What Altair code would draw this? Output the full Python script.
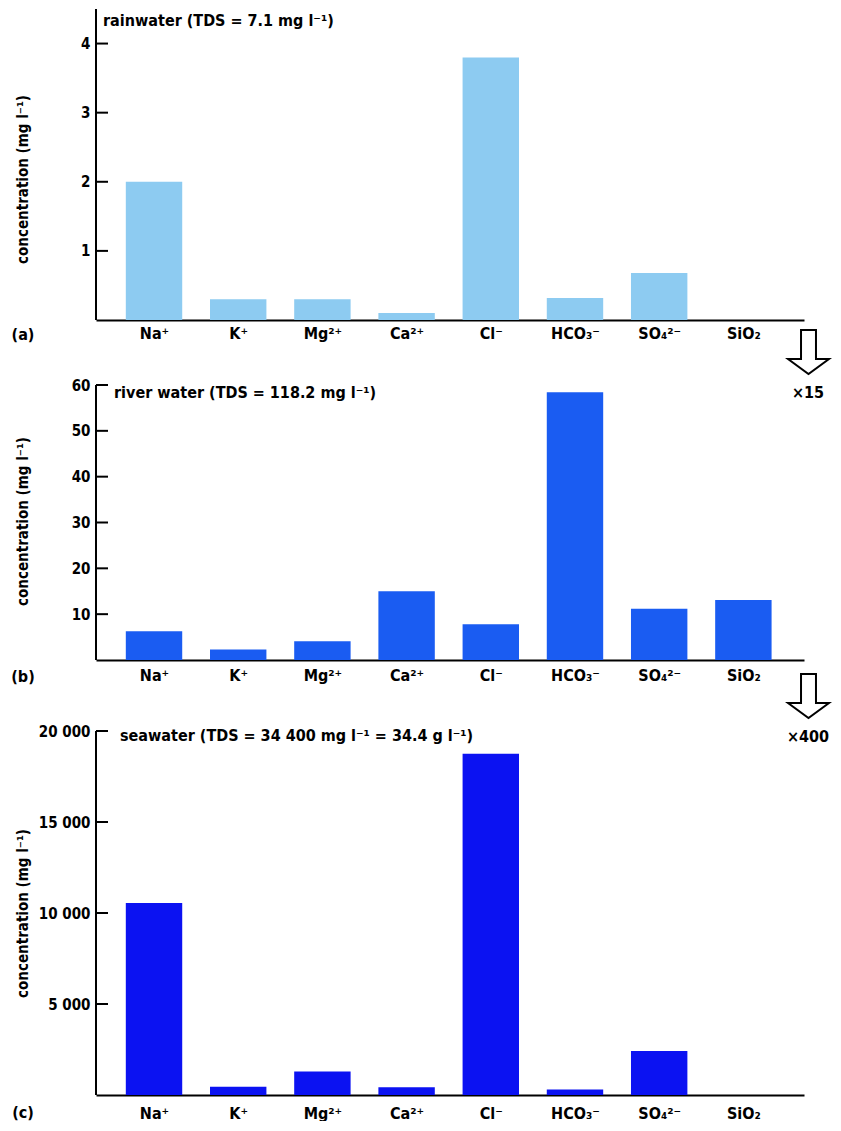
import json
import altair as alt
import pandas as pd

# ---------------- data ----------------
ions = ["Na⁺", "K⁺", "Mg²⁺", "Ca²⁺", "Cl⁻", "HCO₃⁻", "SO₄²⁻", "SiO₂"]
rain = [2.0, 0.3, 0.3, 0.1, 3.8, 0.32, 0.68, 0.0]
river = [6.3, 2.3, 4.1, 15.0, 7.8, 58.4, 11.2, 13.1]
sea = [10550, 450, 1290, 420, 18750, 300, 2420, 0]

rain_ticks = [1, 2, 3, 4]
river_ticks = [10, 20, 30, 40, 50, 60]
sea_ticks = [5000, 10000, 15000, 20000]

titles = [
    "rainwater (TDS = 7.1 mg l⁻¹)",
    "river water (TDS = 118.2 mg l⁻¹)",
    "seawater (TDS = 34 400 mg l⁻¹ = 34.4 g l⁻¹)",
]
tags = ["(a)", "(b)", "(c)"]
factors = ["×15", "×400"]
ytitle = "concentration (mg l⁻¹)"

# ---------------- style ----------------
FONT = "Liberation Sans Narrow, DejaVu Sans Condensed, sans-serif"
W = 708
XMIN, XMAX = -0.689, 7.72
HALF = 0.335
ARROW = "M -0.34 -1 L 0.34 -1 L 0.34 0.32 L 0.93 0.32 L 0 1 L -0.93 0.32 L -0.34 0.32 Z"

label_expr = json.dumps(ions) + "[datum.value]"


def panel(values, color, ymax, axis_top, ticks, height, title, title_pos, tag, title_y,
          xpad, tag_off, ylabel_expr=None, factor=None, arrow_y=None, factor_y=None):
    df = pd.DataFrame({"idx": list(range(len(ions))), "ion": ions, "conc": values})
    xscale = alt.Scale(domain=[XMIN, XMAX], nice=False, zero=False)
    yscale = alt.Scale(domain=[0, ymax], nice=False, zero=True)
    xaxis = alt.Axis(values=list(range(len(ions))), labelExpr=label_expr, ticks=False,
                     tickSize=0, grid=False, domainColor="black", domainWidth=2,
                     labelFontSize=16, labelPadding=xpad, labelFont=FONT, labelColor="black",
                     labelFontWeight="bold",
                     labelFlush=False, labelOverlap=False, title=None)
    yaxis_kw = dict(values=ticks, ticks=False, tickSize=0, grid=False, domain=False,
                    labelFontSize=15, labelPadding=6, labelFont=FONT,
                    labelColor="black", labelOverlap=False, labelFlush=False,
                    labelFontWeight="bold",
                    title=ytitle, titleX=-73.5, titleY=title_y, titleAngle=270,
                    titleBaseline="middle", titleFont=FONT, titleFontSize=15,
                    titleFontWeight="bold", titleColor="black")
    if ylabel_expr:
        yaxis_kw["labelExpr"] = ylabel_expr
    yaxis = alt.Axis(**yaxis_kw)

    bars = alt.Chart(df).transform_calculate(
        x0=f"datum.idx - {HALF}", x1=f"datum.idx + {HALF}", base="0"
    ).mark_bar(color=color).encode(
        x=alt.X("x0:Q", scale=xscale, axis=xaxis),
        x2="x1:Q",
        y=alt.Y("conc:Q", scale=yscale, axis=yaxis),
        y2="base:Q",
    )

    # vertical axis line, from 0 up to the top of the axis
    axis_line = alt.Chart(pd.DataFrame({"conc": [0], "top": [axis_top]})).mark_rule(
        color="black", strokeWidth=2
    ).encode(x=alt.value(0), y=alt.Y("conc:Q", scale=yscale, axis=yaxis), y2="top:Q")

    tick_rules = alt.Chart(pd.DataFrame({"conc": ticks})).mark_rule(
        color="black", strokeWidth=2
    ).encode(x=alt.value(0), x2=alt.value(12),
             y=alt.Y("conc:Q", scale=yscale, axis=yaxis))

    ttl = alt.Chart(pd.DataFrame({"t": [title]})).mark_text(
        align="left", baseline="middle", font=FONT, fontSize=16, fontWeight="bold",
        color="black"
    ).encode(x=alt.value(title_pos[0]), y=alt.value(title_pos[1]), text="t:N")

    tg = alt.Chart(pd.DataFrame({"t": [tag]})).mark_text(
        align="center", baseline="middle", font=FONT, fontSize=16, fontWeight="bold",
        color="black"
    ).encode(x=alt.value(-73), y=alt.value(height + tag_off), text="t:N")

    layers = [bars, axis_line, tick_rules, ttl, tg]
    if factor is not None:
        arr = alt.Chart(pd.DataFrame({"a": [1]})).mark_point(
            shape=ARROW, size=1936, filled=True, fill="white", stroke="black",
            strokeWidth=2, opacity=1
        ).encode(x=alt.value(712.5), y=alt.value(arrow_y))
        ft = alt.Chart(pd.DataFrame({"t": [factor]})).mark_text(
            align="center", baseline="middle", font=FONT, fontSize=16, fontWeight="bold",
            color="black"
        ).encode(x=alt.value(712), y=alt.value(factor_y), text="t:N")
        layers += [arr, ft]
    return alt.layer(*layers).properties(width=W, height=height)


pa = panel(rain, "#8DCBF1", 4.5, 4.5, rain_ticks, 311, titles[0], (7, 12), tags[0], 170,
           xpad=5, tag_off=15)
pb = panel(river, "#1A5CF2", 60, 60, river_ticks, 275, titles[1], (18, 8), tags[1], 136,
           xpad=7, tag_off=17,
           factor=factors[0], arrow_y=-33, factor_y=8)
pc = panel(sea, "#0B12F2", 20330, 20000, sea_ticks, 370, titles[2], (24, 11), tags[2], 188,
           xpad=10, tag_off=18,
           ylabel_expr="replace(format(datum.value, ','), ',', ' ')",
           factor=factors[1], arrow_y=-29, factor_y=12)

chart = alt.vconcat(pa, pb, pc, spacing=65, bounds="flush").properties(
    padding={"left": 3, "top": 0, "right": 0, "bottom": 0},
    background="white",
).configure_view(stroke=None)

chart.save("out.html", embed_options={"renderer": "svg", "actions": False})
